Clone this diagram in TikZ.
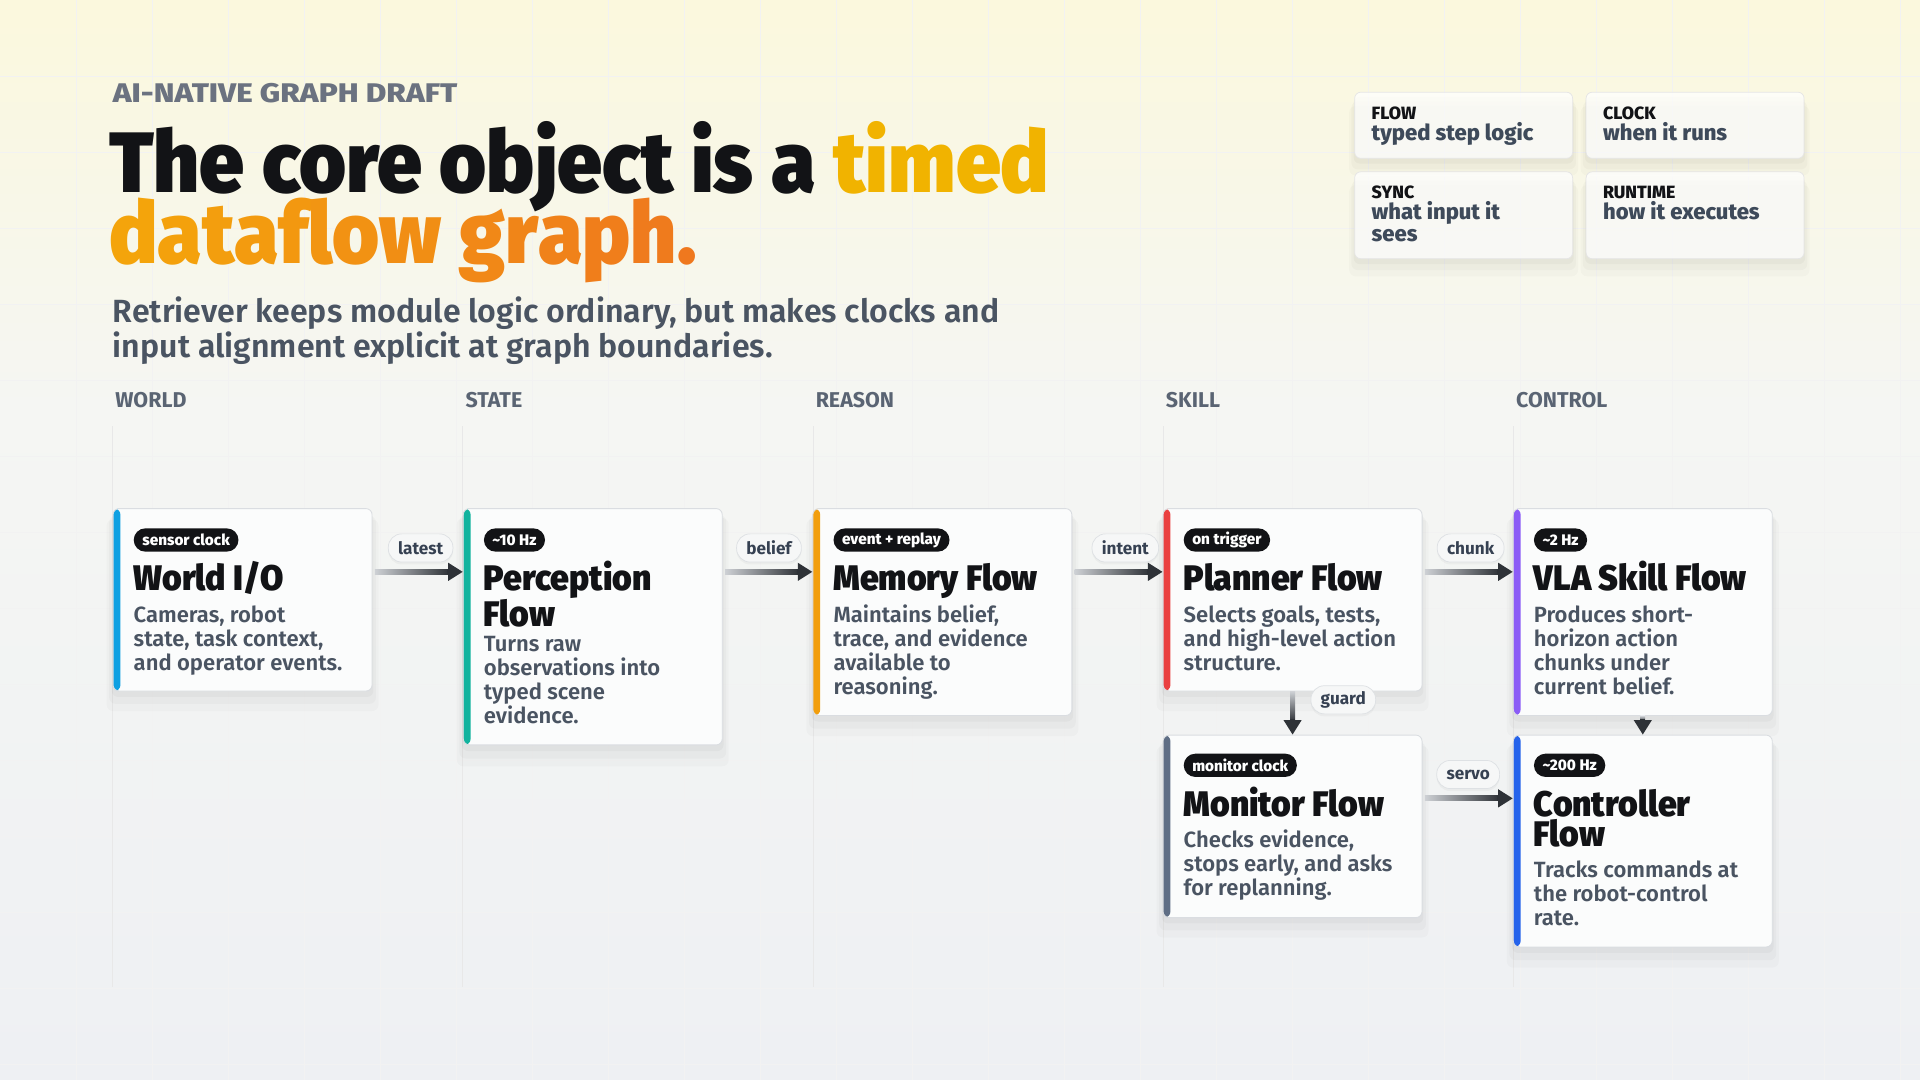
\documentclass[tikz,border=0pt]{standalone}
\usepackage{fontspec}
\setmainfont{Fira Sans}
\newfontfamily\fblackT{Fira Sans Black}[FakeStretch=0.94]
\newfontfamily\fblackC{Fira Sans Black}[FakeStretch=0.95]
\newfontfamily\fxbold{Fira Sans ExtraBold}
\newfontfamily\fxboldW{Fira Sans ExtraBold}[FakeStretch=1.17]
\newfontfamily\fbold{Fira Sans Bold}
\newfontfamily\fsemi{Fira Sans SemiBold}
\usetikzlibrary{shadows,calc,arrows.meta}

\definecolor{ink}{HTML}{121316}
\definecolor{slate}{HTML}{4A5462}
\definecolor{slatel}{HTML}{6B7280}
\definecolor{lane}{HTML}{5A6473}
\definecolor{legval}{HTML}{3E4A5A}
\definecolor{cardfill}{HTML}{FBFCFC}
\definecolor{cardline}{HTML}{DADDE1}
\definecolor{pillfill}{HTML}{F6F7F7}
\definecolor{pillline}{HTML}{DEE1E4}
\definecolor{pilltext}{HTML}{364152}
\definecolor{arrowc}{HTML}{2E3237}
\definecolor{shaftL}{HTML}{CDD0D4}
\definecolor{bgtop}{HTML}{FBF8DD}
\definecolor{bgmid}{HTML}{F5F6F3}
\definecolor{bgbot}{HTML}{EEF0F3}
\definecolor{gold}{HTML}{F1B300}
\definecolor{gA}{HTML}{F4A40B}
\definecolor{gB}{HTML}{EF781E}
\definecolor{cWorld}{HTML}{0EA0E2}
\definecolor{cPerc}{HTML}{12B39E}
\definecolor{cMem}{HTML}{F29E0C}
\definecolor{cPlan}{HTML}{EA4141}
\definecolor{cVla}{HTML}{8B5CF6}
\definecolor{cMon}{HTML}{5F6E85}
\definecolor{cCtrl}{HTML}{2563EB}

\newcommand{\gl}[2]{{\color{gB!#1!gA}#2}}
% multi-line text whose baseline is its first line; lines separated by \\
\newcommand{\lines}[1]{\vtop{\let\\\cr\halign{##\hfil\cr#1\crcr}}}
% horizontal connector: from node #1 to node #2 along row coordinate #3
\newcommand{\hflow}[3]{%
  \shade[left color=shaftL, right color=arrowc] ($(#1.east |- #3)+(2,-2)$) rectangle ($(#2.west |- #3)+(-11,2)$);
  \draw[tipline] ($(#2.west |- #3)+(-13,0)$) -- (#2.west |- #3);}
% vertical connector: from node #1 down to node #2
\newcommand{\vflow}[2]{%
  \shade[top color=shaftL, bottom color=arrowc] ($(#1.south)+(-2,0)$) rectangle ($(#2.north)+(2,-11)$);
  \draw[tipline] ($(#2.north)+(0,-13)$) -- (#2.north);}

\tikzset{
  softshadow/.style={
    general shadow={fill=black, opacity=0.018, shadow yshift=-12pt, shadow scale=1.05},
    general shadow={fill=black, opacity=0.022, shadow yshift=-8pt, shadow scale=1.03},
    general shadow={fill=black, opacity=0.028, shadow yshift=-4pt, shadow scale=1.01}},
  card/.style={draw=cardline, line width=0.7pt, fill=cardfill, rounded corners=5pt,
    anchor=north west, inner sep=0pt, minimum width=211.5pt, softshadow,
    path picture={\fill[#1] (path picture bounding box.north west) rectangle ([xshift=6pt]path picture bounding box.south west);}},
  badge/.style={fill=ink, text=white, rounded corners=9.5pt, anchor=west, inner xsep=7pt, inner ysep=0pt,
    minimum height=19pt, font=\fxbold\fontsize{12.5}{12.5}\selectfont},
  ctitle/.style={anchor=base west, inner sep=0pt, text=ink, font=\fblackC\fontsize{29}{24}\selectfont},
  cdesc/.style={anchor=base west, inner sep=0pt, text=slate, font=\fsemi\fontsize{18}{19.6}\selectfont},
  pill/.style={fill=pillfill, draw=pillline, line width=0.6pt, rounded corners=11pt, minimum height=23pt,
    inner xsep=8pt, inner ysep=0pt, text=pilltext, font=\fbold\fontsize{14}{14}\selectfont,
    general shadow={fill=black, opacity=0.03, shadow yshift=-2pt}},
  tipline/.style={line width=4pt, arrowc, -{Triangle[length=12pt,width=14pt]}},
  lanehead/.style={anchor=base west, inner sep=0pt, text=lane, font=\fbold\fontsize{17.5}{17.5}\selectfont},
  laneline/.style={draw=black!9, line width=0.8pt},
  gridline/.style={draw=black!5, line width=0.8pt},
  legbox/.style={draw=black!10, line width=0.6pt, fill=white, fill opacity=0.75, rounded corners=5pt,
    anchor=north west, minimum width=178pt, inner sep=0pt, softshadow},
  legkey/.style={anchor=base west, inner sep=0pt, text=ink, font=\fxbold\fontsize{14.5}{14.5}\selectfont},
  legval/.style={anchor=base west, inner sep=0pt, text=legval, font=\fxbold\fontsize{18}{18}\selectfont},
  plain/.style={anchor=base west, inner sep=0pt},
}

\begin{document}
\begin{tikzpicture}[x=1pt, y=-1pt]
\useasboundingbox (0,0) rectangle (1568,882);
% background
\shade[top color=bgtop, bottom color=bgmid] (0,0) rectangle (1568,331);
\shade[top color=bgmid, bottom color=bgbot] (0,330) rectangle (1568,882);
\foreach \i in {1,...,25} \draw[gridline] (\i*62.07,0) -- (\i*62.07,882);
\foreach \j in {1,...,14} \draw[gridline] (0,\j*62.07) -- (1568,\j*62.07);

% header
\node[plain, text=slatel, font=\fxboldW\fontsize{22}{22}\selectfont] (kicker) at (92,84) {AI-NATIVE GRAPH DRAFT};
\node[plain, text=ink, font=\fblackT\fontsize{70}{58}\selectfont] (title1) at (89,157) {The core object is a \textcolor{gold}{timed}};
\node[plain, font=\fblackT\fontsize{70}{58}\selectfont] (title2) at (89,215)
  {\gl{0}{d}\gl{7}{a}\gl{14}{t}\gl{21}{a}\gl{28}{f}\gl{35}{l}\gl{42}{o}\gl{50}{w} \gl{64}{g}\gl{71}{r}\gl{78}{a}\gl{85}{p}\gl{92}{h}\gl{100}{.}};
\node[plain, text=slate, font=\fsemi\fontsize{26.2}{29}\selectfont] (sub) at (92,263)
  {\lines{Retriever keeps module logic ordinary, but makes clocks and\\input alignment explicit at graph boundaries.}};

% legend
\node[legbox, minimum height=54pt] (lflow) at (1106,75) {};
\node[legbox, minimum height=54pt] (lclock) at (1295,75) {};
\node[legbox, minimum height=71pt] (lsync) at (1106,140) {};
\node[legbox, minimum height=71pt] (lrun) at (1295,140) {};
\node[legkey] (kflow) at (1120,98) {FLOW};
\node[legval] (vflow) at (1120,115) {typed step logic};
\node[legkey] (kclock) at (1309,98) {CLOCK};
\node[legval] (vclock) at (1309,115) {when it runs};
\node[legkey] (ksync) at (1120,162) {SYNC};
\node[legval] (vsync) at (1120,179) {\lines{what input it\\sees}};
\node[legkey] (krun) at (1309,162) {RUNTIME};
\node[legval] (vrun) at (1309,179) {how it executes};

% lanes
\foreach \x/\n in {92/WORLD,378/STATE,664/REASON,950/SKILL,1236/CONTROL} {
  \draw[laneline] (\x,348) -- (\x,806);
  \node[lanehead] at (\x+2,333) {\n};
}

% cards
\node[card=cWorld, minimum height=149pt] (world) at (92,415) {};
\node[badge] (bworld) at (109,441) {sensor clock};
\node[ctitle] (tworld) at (109,482) {World I/O};
\node[cdesc] (dworld) at (109,508) {\lines{Cameras, robot\\state, task context,\\and operator events.}};

\node[card=cPerc, minimum height=193pt] (perc) at (378,415) {};
\node[badge] (bperc) at (395,441) {\textasciitilde10 Hz};
\node[ctitle] (tperc) at (395,482) {\lines{Perception\\Flow}};
\node[cdesc] (dperc) at (395,532) {\lines{Turns raw\\observations into\\typed scene\\evidence.}};

\node[card=cMem, minimum height=169pt] (mem) at (663.5,415) {};
\node[badge] (bmem) at (680.5,441) {event + replay};
\node[ctitle] (tmem) at (680.5,482) {Memory Flow};
\node[cdesc] (dmem) at (680.5,508) {\lines{Maintains belief,\\trace, and evidence\\available to\\reasoning.}};

\node[card=cPlan, minimum height=149pt] (plan) at (949.5,415) {};
\node[badge] (bplan) at (966.5,441) {on trigger};
\node[ctitle] (tplan) at (966.5,482) {Planner Flow};
\node[cdesc] (dplan) at (966.5,508) {\lines{Selects goals, tests,\\and high-level action\\structure.}};

\node[card=cVla, minimum height=169pt] (vla) at (1235.5,415) {};
\node[badge] (bvla) at (1252.5,441) {\textasciitilde2 Hz};
\node[ctitle] (tvla) at (1252.5,482) {VLA Skill Flow};
\node[cdesc] (dvla) at (1252.5,508) {\lines{Produces short-\\horizon action\\chunks under\\current belief.}};

\node[card=cMon, minimum height=149pt] (mon) at (949.5,600) {};
\node[badge] (bmon) at (966.5,625) {monitor clock};
\node[ctitle] (tmon) at (966.5,667) {Monitor Flow};
\node[cdesc] (dmon) at (966.5,692) {\lines{Checks evidence,\\stops early, and asks\\for replanning.}};

\node[card=cCtrl, minimum height=173pt] (ctrl) at (1235.5,600) {};
\node[badge] (bctrl) at (1252.5,625) {\textasciitilde200 Hz};
\node[ctitle] (tctrl) at (1252.5,667) {\lines{Controller\\Flow}};
\node[cdesc] (dctrl) at (1252.5,717) {\lines{Tracks commands at\\the robot-control\\rate.}};

% connectors
\coordinate (row1) at (0,467);
\coordinate (row2) at (0,652);
\hflow{world}{perc}{row1}
\hflow{perc}{mem}{row1}
\hflow{mem}{plan}{row1}
\hflow{plan}{vla}{row1}
\hflow{mon}{ctrl}{row2}
\vflow{plan}{mon}
\vflow{vla}{ctrl}

\node[pill] (llatest) at (343.5,447.5) {latest};
\node[pill] (lbelief) at (628,447.5) {belief};
\node[pill] (lintent) at (919,447.5) {intent};
\node[pill] (lchunk) at (1201,447.5) {chunk};
\node[pill] (lservo) at (1199,632.5) {servo};
\node[pill] (lguard) at (1097,571.5) {guard};
\end{tikzpicture}
\end{document}
